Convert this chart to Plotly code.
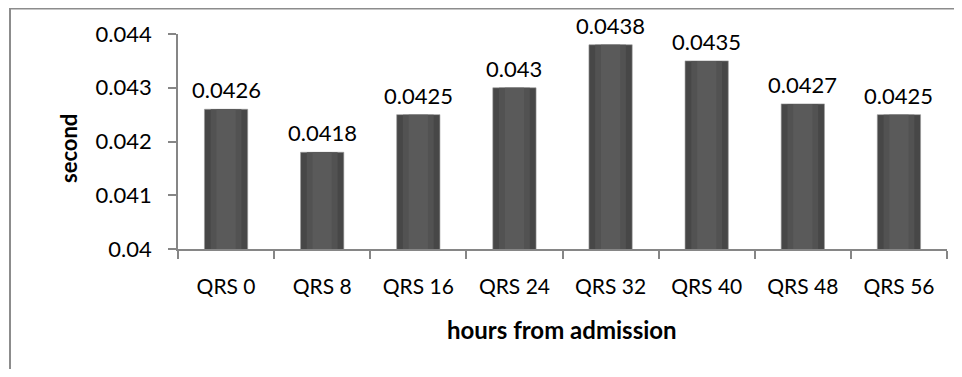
import plotly.graph_objects as go

categories = ["QRS 0", "QRS 8", "QRS 16", "QRS 24", "QRS 32", "QRS 40", "QRS 48", "QRS 56"]
values = [0.0426, 0.0418, 0.0425, 0.043, 0.0438, 0.0435, 0.0427, 0.0425]
labels = ["0.0426", "0.0418", "0.0425", "0.043", "0.0438", "0.0435", "0.0427", "0.0425"]
y_ticks = [0.04, 0.041, 0.042, 0.043, 0.044]
y_ticktext = ["0.04", "0.041", "0.042", "0.043", "0.044"]

FONT = "Lato, 'DejaVu Sans', sans-serif"
AXIS_COLOR = "#868686"

# page body has an 8px margin; the figure is sized to fit inside the window
W, H = 946, 361
L, R, T, B = 170, 7, 26, 120
PW, PH = W - L - R, H - T - B  # 769 x 215

fig = go.Figure()
fig.add_trace(go.Bar(
    x=categories, y=values, width=0.45,
    marker=dict(color="#474747", line=dict(color="#9a9a9a", width=0.6)),
    hoverinfo="skip", showlegend=False,
))
fig.add_trace(go.Bar(
    x=categories, y=values, width=0.32,
    marker=dict(color="#525252", line=dict(width=0)),
    hoverinfo="skip", showlegend=False,
))
fig.add_trace(go.Bar(
    x=categories, y=values, width=0.2,
    marker=dict(color="#5a5a5a", line=dict(width=0)),
    hoverinfo="skip", showlegend=False,
))

annotations = [
    dict(x=c, y=v, text=t, xref="x", yref="y", showarrow=False,
         xanchor="center", yanchor="bottom", yshift=4,
         font=dict(family=FONT, size=22, color="#000000"))
    for c, v, t in zip(categories, values, labels)
]
annotations += [
    dict(text="<b>hours from admission</b>", xref="paper", yref="paper",
         x=(562 - 178) / PW, y=(249 - 329) / PH, xanchor="center", yanchor="middle",
         showarrow=False, font=dict(family=FONT, size=24, color="#000000")),
    dict(text="<b>second</b>", xref="paper", yref="paper", textangle=-90,
         x=(68 - 178) / PW, y=(249 - 148) / PH, xanchor="center", yanchor="middle",
         showarrow=False, font=dict(family=FONT, size=22, color="#000000")),
]

fig.update_layout(
    width=W, height=H,
    margin=dict(l=L, r=R, t=T, b=B, autoexpand=False),
    barmode="overlay",
    plot_bgcolor="white", paper_bgcolor="white",
    font=dict(family=FONT, size=21, color="#000000"),
    xaxis=dict(
        automargin=False,
        showline=True, linecolor=AXIS_COLOR, linewidth=1.5,
        ticks="outside", tickson="boundaries", ticklen=8, tickcolor=AXIS_COLOR, tickwidth=1.5,
        ticklabelstandoff=18,
        showgrid=False,
        tickfont=dict(family=FONT, size=21, color="#000000"),
    ),
    yaxis=dict(
        automargin=False,
        range=[0.04, 0.044],
        tickvals=y_ticks, ticktext=y_ticktext,
        showline=True, linecolor=AXIS_COLOR, linewidth=1.5,
        ticks="outside", ticklen=8, tickcolor=AXIS_COLOR, tickwidth=1.5,
        ticklabelstandoff=12,
        showgrid=False, zeroline=False,
        tickfont=dict(family=FONT, size=22, color="#000000"),
    ),
    annotations=annotations,
    shapes=[dict(
        type="rect", xref="paper", yref="paper",
        x0=(2 - L) / PW, x1=(W + 20 - L) / PW,
        y0=(H - B - (H + 20)) / PH, y1=(H - B - 0.5) / PH,
        line=dict(color="#8c8c8c", width=2), fillcolor="rgba(0,0,0,0)", layer="below",
    )],
)

fig.write_html("out.html")
